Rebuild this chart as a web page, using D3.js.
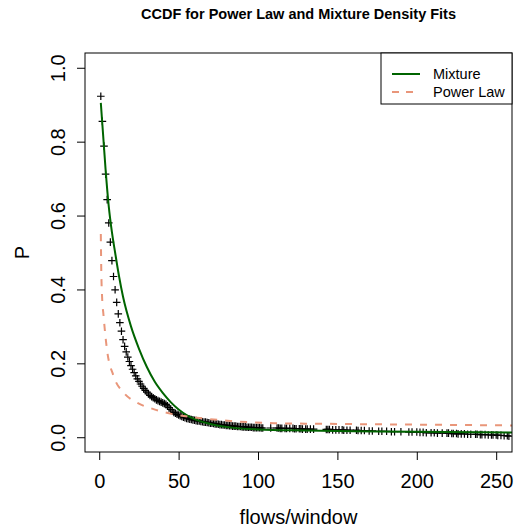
<!doctype html>
<html>
<head>
    <meta charset="utf-8">
    <title>CCDF for Power Law and Mixture Density Fits</title>
    <script src='https://d3js.org/d3.v7.min.js'></script>
    <style>
        body { margin: 0; background: #fff; }
        text { font-family: "Liberation Sans", Arial, Helvetica, sans-serif; }
    </style>
</head>
<body>
<script>
// empirical ccdf: flows/window value and P(X > x)
const flowX = [
    1,2,3,4,5,6,7,8,9,10,11,12,13,14,15,16,17,18,19,20,
    21,22,23,24,25,26,27,28,29,30,31,32,33,34,35,36,37,38,39,40,
    41,42,43,44,45,46,47,48,49,50,51,52,53,54,55,56,57,58,59,60,
    61,62,63,64,65,66,67,68,69,70,71,72,73,74,75,76,77,78,79,80,
    81,82,83,84,85,86,87,88,89,90,91,92,93,94,
    95,96,97,98,99,100,101,102,103,108,
    112,113,114,115,117,118,120,
    122,123,124,126,127,128,130,131,133,135,
    143,144,145,147,149,151,
    153,154,156,158,
    162,163,165,167,170,172,
    176,178,181,
    184,186,190,
    195,197,200,
    202,204,206,209,
    211,213,216,
    219,220,222,223,225,226,228,230,232,234,
    237,238,240,241,243,245,247,
    248,250,251,253,255,257,258
];
const ccdfP = [
    .923,.855,.788,.712,.643,.580,.528,.478,.435,.399,.365,.334,.310,.287,.264,.246,.231,.217,.205,.194,
    .184,.175,.166,.158,.151,.144,.138,.132,.127,.122,.117,.113,.110,.107,.104,.101,.099,.097,.095,.093,
    .091,.089,.085,.080,.075,.071,.067,.065,.062,.060,.058,.056,.054,.053,.051,.050,.049,.048,.047,.046,
    .045,.044,.044,.043,.042,.041,.041,.040,.039,.038,.038,.037,.036,.036,.035,.034,.034,.033,.033,.032,
    .032,.031,.031,.030,.030,.030,.029,.029,.029,.028,.028,.028,.027,.027,
    .027,.027,.026,.026,.026,.026,.026,.025,.025,.025,
    .025,.025,.024,.024,.024,.024,.024,
    .024,.023,.023,.023,.023,.022,.022,.022,.022,.022,
    .021,.021,.021,.020,.020,.020,
    .020,.019,.019,.019,
    .019,.018,.018,.018,.017,.017,
    .016,.016,.016,
    .015,.015,.015,
    .014,.014,.014,
    .013,.013,.012,.012,
    .012,.011,.011,
    .011,.011,.010,.010,.010,.009,.009,.009,.008,.008,
    .008,.008,.007,.007,.007,.006,.006,
    .006,.006,.005,.005,.004,.004,.003
];

// fitted mixture density ccdf
const mixX = [1,2,3,4,6,8,10,12.5,15,20,25,30,35,40,45,50,55,60,70,80,100,130,160,200,260];
const mixP = [.905,.845,.785,.725,.625,.555,.50,.435,.38,.30,.24,.19,.15,.12,.095,.075,.06,.049,.036,.028,.021,.018,.016,.015,.013];

// fitted power law ccdf
const powX = [1,1.3,1.8,2.7,4.8,9,15.3,23.7,34.2,46.8,61.5,82.5,110,150,200,260];
const powP = [.55,.45,.38,.33,.24,.166,.121,.094,.076,.062,.053,.044,.038,.036,.034,.032];

const xTicks = [0, 50, 100, 150, 200, 250];
const yTicks = [0, 0.2, 0.4, 0.6, 0.8, 1.0];
const legendLabels = ["Mixture", "Power Law"];

const w = 515;
const h = 529;
const pLeft = 85, pRight = 512, pTop = 53, pBottom = 452;

const svg = d3.select("body")
    .append("svg")
    .attr("width", w)
    .attr("height", h);

// R style 4% padding around the data range
const xScale = d3.scaleLinear()
    .domain([1 - 0.04 * 249, 250 + 0.04 * 249])
    .range([pLeft, pRight]);
const yScale = d3.scaleLinear()
    .domain([-0.04, 1.04])
    .range([pBottom, pTop]);

svg.append("clipPath")
    .attr("id", "plotclip")
    .append("rect")
    .attr("x", pLeft)
    .attr("y", pTop)
    .attr("width", pRight - pLeft)
    .attr("height", pBottom - pTop);

const plot = svg.append("g").attr("clip-path", "url(#plotclip)");

const pts = flowX.map((x, i) => [x, ccdfP[i]]);
plot.selectAll("path.pt")
    .data(pts)
    .enter()
    .append("path")
    .attr("class", "pt")
    .attr("d", d => {
        const cx = xScale(d[0]), cy = yScale(d[1]);
        return `M${cx - 3.8},${cy}H${cx + 3.8}M${cx},${cy - 3.8}V${cy + 3.8}`;
    })
    .attr("stroke", "#000")
    .attr("stroke-width", 1.2)
    .attr("fill", "none");

const line = d3.line()
    .x(d => xScale(d[0]))
    .y(d => yScale(d[1]))
    .curve(d3.curveMonotoneX);

plot.append("path")
    .datum(mixX.map((x, i) => [x, mixP[i]]))
    .attr("d", line)
    .attr("fill", "none")
    .attr("stroke", "#006400")
    .attr("stroke-width", 2);

plot.append("path")
    .datum(powX.map((x, i) => [x, powP[i]]))
    .attr("d", line)
    .attr("fill", "none")
    .attr("stroke", "#E9967A")
    .attr("stroke-width", 2)
    .attr("stroke-dasharray", "7,8");

// box
svg.append("rect")
    .attr("x", pLeft)
    .attr("y", pTop)
    .attr("width", pRight - pLeft)
    .attr("height", pBottom - pTop)
    .attr("fill", "none")
    .attr("stroke", "#000")
    .attr("stroke-width", 1);

const xAxis = d3.axisBottom(xScale)
    .tickValues(xTicks)
    .tickSize(8)
    .tickPadding(14)
    .tickSizeOuter(0);
const gx = svg.append("g")
    .attr("id", "x-axis")
    .attr("transform", "translate(0," + pBottom + ")")
    .call(xAxis);
gx.select(".domain").remove();
gx.selectAll("text").attr("font-size", 20).attr("fill", "#000");
gx.attr("font-family", null);

const yAxis = d3.axisLeft(yScale)
    .tickValues(yTicks)
    .tickFormat(d3.format(".1f"))
    .tickSize(8)
    .tickSizeOuter(0);
const gy = svg.append("g")
    .attr("id", "y-axis")
    .attr("transform", "translate(" + pLeft + ",0)")
    .call(yAxis);
gy.select(".domain").remove();
gy.attr("font-family", null);
gy.selectAll("text")
    .attr("font-size", 20)
    .attr("fill", "#000")
    .attr("x", null)
    .attr("dy", null)
    .attr("text-anchor", "middle")
    .attr("dominant-baseline", "central")
    .attr("transform", "translate(-27,0) rotate(-90)");

svg.append("text")
    .attr("x", (pLeft + pRight) / 2)
    .attr("y", 19)
    .attr("text-anchor", "middle")
    .attr("font-weight", "bold")
    .attr("font-size", 14.5)
    .text("CCDF for Power Law and Mixture Density Fits");

svg.append("text")
    .attr("x", (pLeft + pRight) / 2)
    .attr("y", 524)
    .attr("text-anchor", "middle")
    .attr("font-size", 20)
    .text("flows/window");

svg.append("text")
    .attr("transform", "translate(22," + (pTop + pBottom) / 2 + ") rotate(-90)")
    .attr("text-anchor", "middle")
    .attr("dominant-baseline", "central")
    .attr("font-size", 20)
    .text("P");

// legend
const lg = svg.append("g");
lg.append("rect")
    .attr("x", 381)
    .attr("y", pTop)
    .attr("width", pRight - 381)
    .attr("height", 51)
    .attr("fill", "#fff")
    .attr("stroke", "#000");
const lgStyles = [
    { stroke: "#006400", dash: null },
    { stroke: "#E9967A", dash: "7,7" }
];
legendLabels.forEach((lab, i) => {
    const y = 74 + i * 18;
    lg.append("line")
        .attr("x1", 392).attr("x2", 420)
        .attr("y1", y).attr("y2", y)
        .attr("stroke", lgStyles[i].stroke)
        .attr("stroke-width", 2)
        .attr("stroke-dasharray", lgStyles[i].dash);
    lg.append("text")
        .attr("x", 433)
        .attr("y", y)
        .attr("dominant-baseline", "central")
        .attr("font-size", 14.5)
        .text(lab);
});
</script>
</body>
</html>
